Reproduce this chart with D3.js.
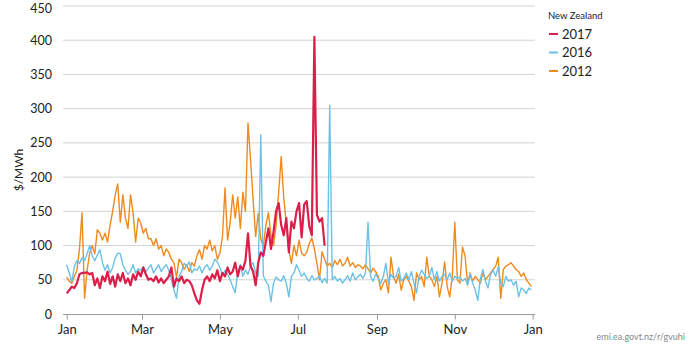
<!DOCTYPE html>
<html><head><meta charset="utf-8">
<script src="https://cdn.jsdelivr.net/npm/d3@7"></script>
<style>
body{margin:0;background:#fff;}
svg{font-family:Lato,"Open Sans",sans-serif;}
</style></head>
<body><svg id="c" width="690" height="346"></svg>
<script>
// ---- data (daily wholesale price, sampled every 2 days from 1 Jan) ----
const stepDays = 2;
const seriesNames = ["2017", "2016", "2012"];
const seriesColors = ["#dc1e4b", "#6cc2e6", "#ef8a1f"];
const monthTicks = ["Jan","Mar","May","Jul","Sep","Nov","Jan"];
const yTicks = [0,50,100,150,200,250,300,350,400,450];
const values2017 = [30,35,40,38,45,58,60,60,61,58,60,42,52,38,55,48,62,44,55,40,58,48,60,45,52,42,58,50,62,55,
68,58,50,52,48,55,46,52,45,50,55,68,40,52,48,55,45,50,48,42,30,20,15,35,50,55,48,58,52,64,
48,60,55,68,58,62,75,55,70,65,78,118,70,62,42,75,90,85,105,125,95,120,150,162,130,115,140,90,135,125,
150,162,112,160,165,128,115,405,145,135,140,100];
const values2016 = [72,60,47,70,78,74,82,78,88,100,85,78,86,94,75,64,72,60,68,82,89,88,72,64,58,62,72,60,66,64,
69,62,67,72,60,66,72,62,68,72,64,50,35,23,55,62,74,70,76,60,66,64,70,60,68,72,64,70,80,76,
68,56,64,58,50,40,31,62,72,55,64,58,70,75,60,55,262,56,48,42,18,45,54,50,48,56,45,25,55,60,
72,64,55,60,52,48,56,50,52,56,46,52,45,305,50,55,48,52,45,50,56,48,60,50,54,58,52,60,134,55,
48,58,52,45,55,74,45,58,52,55,68,48,52,60,50,62,45,31,55,64,58,52,55,68,50,62,48,55,58,50,
60,48,55,52,54,48,52,42,58,45,35,20,52,65,48,38,58,64,55,69,45,40,55,48,50,42,48,25,38,35,
30,38,35];
const values2012 = [54,48,45,55,64,95,148,23,64,89,100,88,123,118,108,118,105,130,150,174,190,134,174,140,125,174,148,105,140,133,
118,125,110,110,100,110,95,100,85,95,90,80,75,54,80,75,65,72,62,75,70,85,94,80,100,95,108,92,100,80,
89,113,184,108,133,174,140,171,125,178,150,279,225,167,113,147,110,98,130,148,115,100,130,177,230,170,133,94,74,100,
85,108,89,85,90,103,111,95,74,50,91,80,70,74,68,78,72,80,70,74,83,70,75,68,72,70,66,72,66,60,
67,62,55,35,45,50,31,83,55,45,58,35,50,55,48,40,20,60,50,55,40,83,55,50,40,55,25,45,76,40,
25,55,134,50,45,98,85,45,60,48,55,50,45,60,50,55,60,65,70,83,23,65,70,72,75,70,65,62,55,60,
50,45,40];
const allValues = [values2017, values2016, values2012];

// ---- chart ----
const svg = d3.select("#c");
const start = new Date(2017,0,1), end = new Date(2018,0,1);
const x = d3.scaleTime().domain([start,end]).range([66.7,532.7]);
const y = d3.scaleLinear().domain([0,450]).range([314,6]);
const toPts = vals => vals.map((v,i)=>({date:d3.timeDay.offset(start,i*stepDays), v}));

// gridlines
svg.append("g").selectAll("line").data(yTicks.slice(1)).join("line")
  .attr("x1",63).attr("x2",535).attr("y1",d=>y(d)).attr("y2",d=>y(d))
  .attr("stroke","#d4d4d4").attr("stroke-width",1);

// y labels
svg.append("g").selectAll("text").data(yTicks).join("text")
  .attr("x",52).attr("y",d=>Math.max(y(d),8)).attr("dy","0.36em").attr("text-anchor","end")
  .attr("font-size",12.5).attr("fill","#222").text(d=>d);

svg.append("text").attr("transform","translate(23,170) rotate(-90)")
  .attr("text-anchor","middle").attr("font-size",12).attr("fill","#222").text("$/MWh");

// x axis
svg.append("line").attr("x1",63).attr("x2",535).attr("y1",314.5).attr("y2",314.5)
  .attr("stroke","#999").attr("stroke-width",1);
const xAxis = d3.axisBottom(x).ticks(d3.timeMonth.every(2)).tickSize(5).tickSizeOuter(0)
  .tickFormat((d,i)=>monthTicks[i]);
const gx = svg.append("g").attr("transform","translate(0,314.5)").call(xAxis);
gx.select(".domain").remove();
gx.selectAll(".tick line").attr("stroke","#999");
gx.selectAll(".tick text").attr("font-size",13).attr("fill","#222").attr("dy","0.9em")
  .attr("font-family","Lato,'Open Sans',sans-serif");

// lines
const line = d3.line().x(d=>x(d.date)).y(d=>y(d.v));
const order = [2,1,0];
const widths = [2.2,1.4,1.4];
order.forEach(k=>{
  svg.append("path").datum(toPts(allValues[k])).attr("d",line)
    .attr("fill","none").attr("stroke",seriesColors[k]).attr("stroke-width",widths[k])
    .attr("stroke-linejoin","round");
});

// legend
svg.append("text").attr("x",548).attr("y",19).attr("font-size",9.5).attr("fill","#222").text("New Zealand");
const lg = svg.append("g").selectAll("g").data(seriesNames).join("g")
  .attr("transform",(d,i)=>`translate(549,${34+i*18.5})`);
lg.append("line").attr("x1",0).attr("x2",9).attr("y1",0).attr("y2",0)
  .attr("stroke",(d,i)=>seriesColors[i]).attr("stroke-width",2);
lg.append("text").attr("x",13).attr("y",0).attr("dy","0.35em").attr("font-size",13)
  .attr("fill","#222").text(d=>d);

// source
svg.append("text").attr("x",685).attr("y",340).attr("text-anchor","end")
  .attr("font-size",9).attr("fill","#888").text("emi.ea.govt.nz/r/gvuhi");
</script></body></html>
